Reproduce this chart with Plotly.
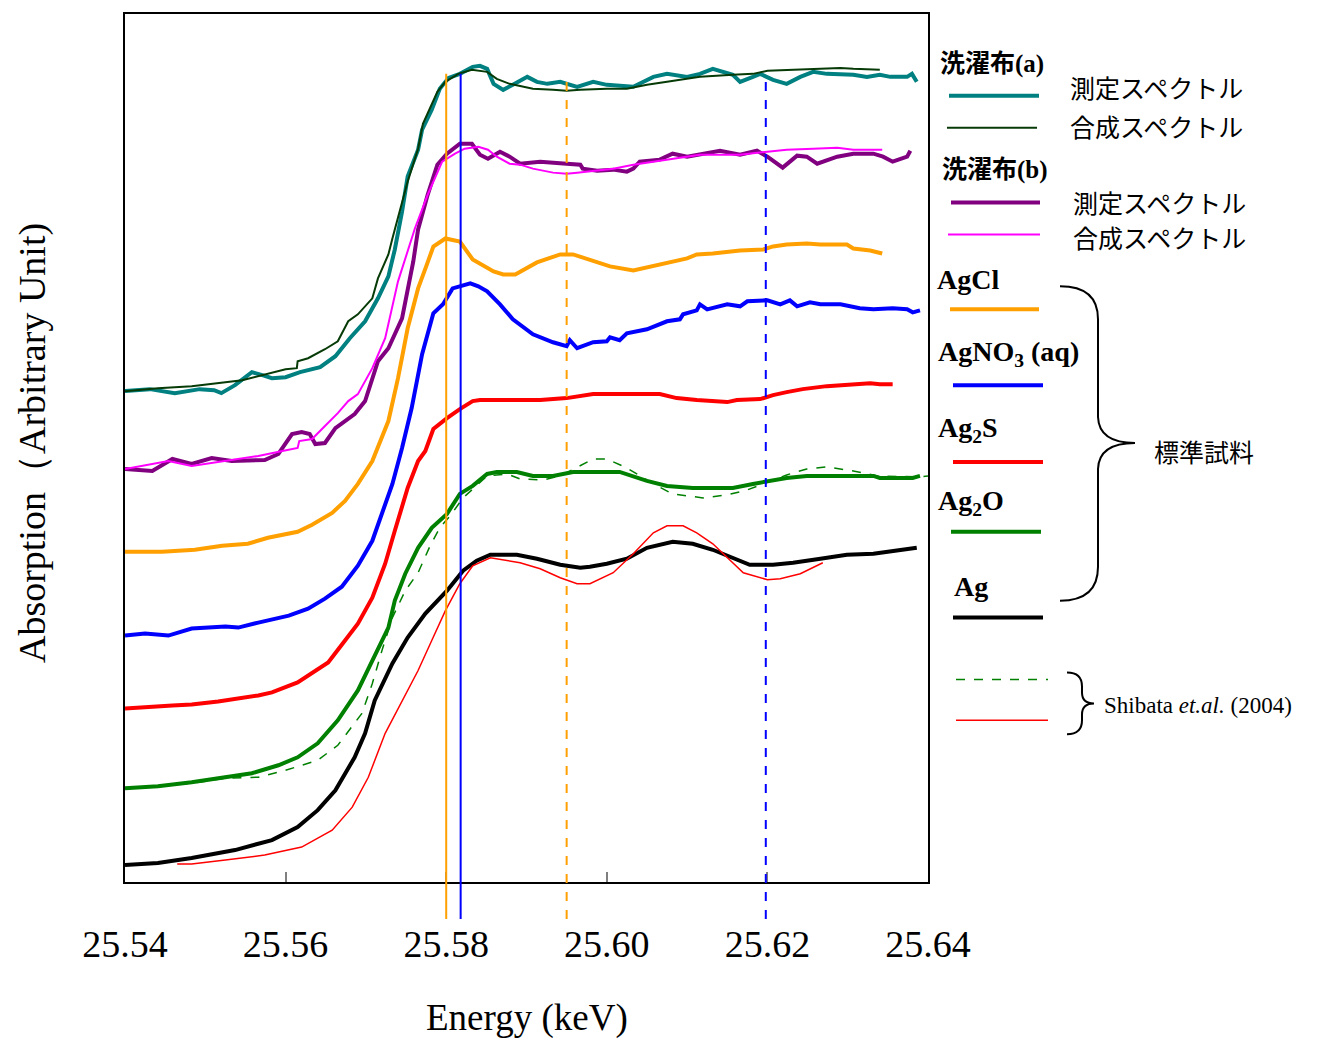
import plotly.graph_objects as go

# ---------------- data (energy keV, absorption arbitrary units) ----------------
E_wash_a_meas = [25.5400, 25.5431, 25.5462, 25.5493, 25.5511, 25.5520, 25.5537, 25.5558, 25.5571, 25.5583,
                 25.5600, 25.5618, 25.5643, 25.5662, 25.5680, 25.5699, 25.5715, 25.5728, 25.5736, 25.5745,
                 25.5752, 25.5765, 25.5770, 25.5782, 25.5792, 25.5803, 25.5817, 25.5833, 25.5842, 25.5851,
                 25.5859, 25.5871, 25.5883, 25.5901, 25.5913, 25.5926, 25.5942, 25.5963, 25.5983, 25.6000,
                 25.6033, 25.6058, 25.6075, 25.6100, 25.6116, 25.6132, 25.6157, 25.6166, 25.6182, 25.6191,
                 25.6207, 25.6224, 25.6241, 25.6257, 25.6274, 25.6307, 25.6324, 25.6340, 25.6353, 25.6374,
                 25.6380, 25.6386]
A_wash_a_meas = [492, 494, 490, 494, 493, 490, 498, 511, 508, 505,
                 506, 511, 516, 527, 545, 562, 585, 607, 634, 672,
                 707, 734, 754, 774, 795, 806, 810, 817, 818, 815,
                 800, 794, 799, 807, 802, 800, 802, 797, 802, 799,
                 797, 807, 810, 807, 810, 815, 809, 802, 807, 810,
                 804, 800, 807, 812, 810, 809, 807, 809, 807, 807,
                 810, 802]

E_wash_a_fit = [25.5400, 25.5441, 25.5483, 25.5508, 25.5525, 25.5546, 25.5574, 25.5600, 25.5614, 25.5615,
                25.5628, 25.5649, 25.5665, 25.5678, 25.5690, 25.5708, 25.5715, 25.5728, 25.5733, 25.5740,
                25.5752, 25.5765, 25.5771, 25.5789, 25.5799, 25.5815, 25.5832, 25.5851, 25.5863, 25.5879,
                25.5908, 25.5933, 25.5950, 25.5967, 25.6000, 25.6025, 25.6050, 25.6075, 25.6116, 25.6157,
                25.6182, 25.6200, 25.6224, 25.6266, 25.6291, 25.6307, 25.6340]
A_wash_a_fit = [492, 495, 497, 499, 501, 503, 509, 514, 515, 522,
                525, 534, 542, 562, 569, 585, 605, 629, 645, 665,
                702, 735, 760, 792, 802, 810, 814, 812, 805, 800,
                795, 794, 793, 794, 795, 795, 799, 802, 807, 809,
                810, 813, 814, 815, 816, 815, 814]

E_wash_b_meas = [25.5400, 25.5434, 25.5459, 25.5483, 25.5508, 25.5533, 25.5574, 25.5591, 25.5608, 25.5620,
                 25.5630, 25.5637, 25.5649, 25.5662, 25.5686, 25.5699, 25.5715, 25.5728, 25.5745, 25.5752,
                 25.5759, 25.5765, 25.5777, 25.5789, 25.5801, 25.5817, 25.5832, 25.5842, 25.5852, 25.5867,
                 25.5879, 25.5892, 25.5917, 25.5950, 25.5967, 25.5970, 25.5988, 25.6008, 25.6025, 25.6033,
                 25.6041, 25.6066, 25.6082, 25.6100, 25.6116, 25.6141, 25.6166, 25.6187, 25.6200, 25.6219,
                 25.6237, 25.6249, 25.6262, 25.6287, 25.6307, 25.6332, 25.6344, 25.6356, 25.6374, 25.6378]
A_wash_b_meas = [414, 412, 424, 419, 425, 422, 423, 429, 449, 451,
                 449, 439, 440, 455, 469, 482, 522, 535, 565, 592,
                 622, 654, 689, 719, 730, 740, 740, 729, 725, 732,
                 727, 720, 722, 720, 719, 715, 713, 714, 712, 715,
                 722, 724, 730, 727, 729, 733, 729, 733, 727, 716,
                 728, 727, 720, 727, 730, 730, 727, 722, 727, 733]

E_wash_b_fit = [25.5400, 25.5454, 25.5483, 25.5525, 25.5566, 25.5596, 25.5615, 25.5617, 25.5633, 25.5649,
                25.5665, 25.5678, 25.5690, 25.5708, 25.5724, 25.5740, 25.5752, 25.5761, 25.5777, 25.5795,
                25.5811, 25.5823, 25.5840, 25.5852, 25.5863, 25.5879, 25.5892, 25.5908, 25.5933, 25.5950,
                25.5963, 25.5983, 25.6008, 25.6033, 25.6058, 25.6082, 25.6116, 25.6141, 25.6166, 25.6200,
                25.6224, 25.6257, 25.6287, 25.6307, 25.6343]
A_wash_b_fit = [414, 422, 417, 422, 427, 432, 435, 442, 444, 457,
                470, 482, 489, 515, 545, 602, 632, 655, 689, 722,
                730, 735, 737, 734, 727, 720, 719, 715, 711, 710,
                711, 713, 715, 719, 722, 725, 729, 729, 729, 732,
                734, 735, 736, 734, 734]

E_AgCl = [25.5400, 25.5446, 25.5487, 25.5521, 25.5553, 25.5578, 25.5615, 25.5633, 25.5658, 25.5674,
          25.5690, 25.5708, 25.5728, 25.5740, 25.5752, 25.5765, 25.5776, 25.5784, 25.5799, 25.5817,
          25.5833, 25.5859, 25.5871, 25.5886, 25.5913, 25.5942, 25.5958, 25.5983, 25.6004, 25.6033,
          25.6066, 25.6100, 25.6112, 25.6132, 25.6166, 25.6195, 25.6207, 25.6224, 25.6249, 25.6266,
          25.6299, 25.6307, 25.6328, 25.6343]
A_AgCl = [331, 331, 333, 337, 339, 345, 351, 358, 370, 382,
          399, 422, 462, 505, 555, 595, 619, 637, 645, 642,
          624, 612, 609, 609, 621, 629, 629, 622, 617, 613,
          619, 625, 629, 630, 633, 634, 637, 639, 640, 639,
          639, 635, 633, 630]

E_AgNO3 = [25.5400, 25.5425, 25.5454, 25.5483, 25.5525, 25.5541, 25.5566, 25.5604, 25.5628, 25.5649,
           25.5670, 25.5690, 25.5708, 25.5724, 25.5733, 25.5745, 25.5757, 25.5770, 25.5784, 25.5796,
           25.5808, 25.5830, 25.5840, 25.5851, 25.5867, 25.5883, 25.5908, 25.5933, 25.5950, 25.5954,
           25.5963, 25.5983, 25.6000, 25.6004, 25.6016, 25.6025, 25.6050, 25.6075, 25.6091, 25.6095,
           25.6112, 25.6116, 25.6125, 25.6150, 25.6166, 25.6175, 25.6200, 25.6216, 25.6228, 25.6237,
           25.6253, 25.6266, 25.6291, 25.6315, 25.6332, 25.6356, 25.6374, 25.6381, 25.6390]
A_AgNO3 = [247, 249, 247, 254, 256, 255, 260, 267, 274, 284,
           296, 317, 342, 377, 399, 435, 475, 529, 570, 579,
           595, 600, 597, 592, 579, 564, 549, 541, 537, 543,
           535, 541, 542, 546, 543, 550, 554, 562, 564, 569,
           573, 579, 574, 579, 577, 582, 583, 579, 583, 577,
           581, 579, 579, 575, 574, 575, 574, 571, 573]

E_Ag2S = [25.5400, 25.5429, 25.5459, 25.5483, 25.5516, 25.5566, 25.5583, 25.5615, 25.5633, 25.5653,
          25.5674, 25.5690, 25.5708, 25.5724, 25.5736, 25.5752, 25.5765, 25.5774, 25.5784, 25.5801,
          25.5817, 25.5833, 25.5842, 25.5917, 25.5950, 25.5983, 25.6025, 25.6066, 25.6087, 25.6112,
          25.6150, 25.6162, 25.6191, 25.6207, 25.6224, 25.6244, 25.6274, 25.6303, 25.6328, 25.6340,
          25.6356]
A_Ag2S = [174, 175, 177, 178, 181, 187, 190, 200, 209, 220,
          242, 259, 285, 319, 352, 395, 422, 432, 454, 465,
          474, 482, 483, 483, 485, 489, 489, 489, 485, 483,
          481, 483, 484, 488, 491, 494, 497, 499, 500, 499,
          499]

E_Ag2O = [25.5400, 25.5441, 25.5483, 25.5525, 25.5558, 25.5591, 25.5615, 25.5640, 25.5665, 25.5690,
          25.5708, 25.5728, 25.5736, 25.5749, 25.5765, 25.5782, 25.5801, 25.5817, 25.5833, 25.5851,
          25.5863, 25.5888, 25.5908, 25.5933, 25.5958, 25.6016, 25.6050, 25.6075, 25.6107, 25.6157,
          25.6182, 25.6200, 25.6224, 25.6249, 25.6332, 25.6340, 25.6381, 25.6390]
A_Ag2O = [94, 96, 100, 105, 109, 117, 125, 139, 162, 192,
          222, 255, 282, 309, 335, 355, 369, 389, 397, 409,
          411, 411, 407, 407, 411, 411, 402, 397, 395, 395,
          399, 402, 405, 407, 407, 405, 405, 407]

E_Ag = [25.5400, 25.5441, 25.5483, 25.5537, 25.5583, 25.5615, 25.5640, 25.5662, 25.5686, 25.5699,
        25.5711, 25.5733, 25.5752, 25.5767, 25.5774, 25.5801, 25.5821, 25.5838, 25.5855, 25.5888,
        25.5913, 25.5942, 25.5967, 25.5979, 25.6000, 25.6025, 25.6050, 25.6082, 25.6107, 25.6132,
        25.6157, 25.6178, 25.6207, 25.6232, 25.6266, 25.6299, 25.6332, 25.6365, 25.6386]
A_Ag = [17, 19, 24, 32, 42, 55, 72, 92, 125, 149,
        182, 219, 245, 262, 269, 292, 312, 322, 328, 328,
        324, 318, 315, 316, 319, 324, 335, 341, 339, 333,
        325, 318, 318, 320, 324, 328, 329, 333, 335]

E_shibata_Ag2O = [25.5400, 25.5441, 25.5483, 25.5525, 25.5566, 25.5600, 25.5640, 25.5665, 25.5695, 25.5708,
                  25.5720, 25.5733, 25.5749, 25.5765, 25.5780, 25.5792, 25.5805, 25.5821, 25.5851, 25.5876,
                  25.5892, 25.5921, 25.5942, 25.5963, 25.5983, 25.6000, 25.6025, 25.6058, 25.6082, 25.6120,
                  25.6150, 25.6175, 25.6195, 25.6224, 25.6249, 25.6274, 25.6307, 25.6337, 25.6390, 25.6400]
A_shibata_Ag2O = [94, 96, 99, 104, 105, 112, 122, 137, 169, 199,
                  232, 265, 292, 310, 337, 355, 367, 385, 407, 409,
                  404, 403, 407, 416, 424, 424, 415, 399, 389, 385,
                  388, 393, 399, 408, 414, 416, 412, 407, 406, 407]

E_shibata_Ag = [25.5465, 25.5483, 25.5525, 25.5574, 25.5620, 25.5658, 25.5683, 25.5703, 25.5724, 25.5745,
                25.5765, 25.5782, 25.5799, 25.5817, 25.5833, 25.5855, 25.5892, 25.5917, 25.5942, 25.5963,
                25.5979, 25.6008, 25.6033, 25.6058, 25.6075, 25.6095, 25.6112, 25.6132, 25.6150, 25.6170,
                25.6200, 25.6216, 25.6241, 25.6269]
A_shibata_Ag = [18, 18, 22, 27, 35, 52, 75, 105, 149, 182,
                212, 242, 272, 299, 317, 325, 320, 314, 305, 299,
                299, 310, 329, 350, 357, 357, 350, 339, 325, 310,
                303, 304, 309, 320]

tick_vals = [25.54, 25.56, 25.58, 25.60, 25.62, 25.64]
tick_text = ["25.54", "25.56", "25.58", "25.60", "25.62", "25.64"]

marker_energies = [25.5800, 25.5818, 25.5950, 25.6198]
marker_colors = ["#FFA000", "#0000FF", "#FFA000", "#0000FF"]
marker_dash = ["solid", "solid", "dash", "dash"]

# ---------------- figure ----------------
W, H = 1323, 1040
L, R, T, B = 125, 395, 12, 158
PW, PH = W - L - R, H - T - B


def px(x):
    return (x - L) / PW


def py(y):
    return (H - B - y) / PH


SERIF = "Liberation Serif, Times New Roman, serif"
CJK = "Liberation Serif, Noto Sans CJK JP, serif"
JP = "Noto Sans CJK JP"

series = [
    (E_wash_a_meas, A_wash_a_meas, "#008080", 4, "solid"),
    (E_wash_a_fit, A_wash_a_fit, "#063A06", 2, "solid"),
    (E_wash_b_meas, A_wash_b_meas, "#800080", 4, "solid"),
    (E_wash_b_fit, A_wash_b_fit, "#FF00FF", 2, "solid"),
    (E_AgCl, A_AgCl, "#FFA000", 4, "solid"),
    (E_AgNO3, A_AgNO3, "#0000FF", 4, "solid"),
    (E_Ag2S, A_Ag2S, "#FF0000", 4, "solid"),
    (E_Ag2O, A_Ag2O, "#008000", 4, "solid"),
    (E_shibata_Ag2O, A_shibata_Ag2O, "#008000", 1.5, "dash"),
    (E_Ag, A_Ag, "#000000", 4, "solid"),
    (E_shibata_Ag, A_shibata_Ag, "#FF0000", 1.5, "solid"),
]

fig = go.Figure()
for ex, ay, col, w, dash in series:
    fig.add_trace(go.Scatter(x=ex, y=ay, mode="lines",
                             line=dict(color=col, width=w, dash=dash),
                             showlegend=False, hoverinfo="skip"))

shapes = []
for e, c, d in zip(marker_energies, marker_colors, marker_dash):
    shapes.append(dict(type="line", xref="x", yref="paper", x0=e, x1=e,
                       y0=py(919), y1=py(72), line=dict(color=c, width=2, dash=d)))

# legend samples (drawn manually, outside the plot)
legend_lines = [
    (949, 1039, 94, "#008080", 4, "solid"),
    (947, 1037, 126, "#063A06", 2, "solid"),
    (951, 1040, 201, "#800080", 4, "solid"),
    (948, 1040, 233, "#FF00FF", 2, "solid"),
    (950, 1039, 308, "#FFA000", 4, "solid"),
    (953, 1043, 384, "#0000FF", 4, "solid"),
    (953, 1043, 461, "#FF0000", 4, "solid"),
    (951, 1041, 531, "#008000", 4, "solid"),
    (953, 1043, 617, "#000000", 4, "solid"),
    (956, 1048, 679, "#008000", 1.5, "dash"),
    (956, 1048, 720, "#FF0000", 1.5, "solid"),
]
for x0, x1, yy, c, w, d in legend_lines:
    shapes.append(dict(type="line", xref="paper", yref="paper",
                       x0=px(x0), x1=px(x1), y0=py(yy), y1=py(yy),
                       line=dict(color=c, width=w, dash=d)))


def P(x, y):
    return f"{px(x):.5f},{py(y):.5f}"


big_brace = (f"M {P(1060,285)} Q {P(1098,285)} {P(1098,318)} L {P(1098,416)} "
             f"Q {P(1099,442)} {P(1135,442)} Q {P(1099,442)} {P(1098,468)} "
             f"L {P(1098,566)} Q {P(1098,600)} {P(1060,600)}")
small_brace = (f"M {P(1067,672)} Q {P(1082,672)} {P(1082,686)} L {P(1082,692)} "
               f"Q {P(1082,703)} {P(1094,703)} Q {P(1082,703)} {P(1082,714)} "
               f"L {P(1082,720)} Q {P(1082,734)} {P(1067,734)}")
for pth in (big_brace, small_brace):
    shapes.append(dict(type="path", xref="paper", yref="paper", path=pth,
                       line=dict(color="black", width=2)))

annotations = []


def label(text, x, y, size, bold=False, family=CJK):
    annotations.append(dict(text=f"<b>{text}</b>" if bold else text,
                            xref="paper", yref="paper", x=px(x), y=py(y),
                            xanchor="left", yanchor="middle", showarrow=False,
                            font=dict(family=family, size=size, color="black")))


label("洗濯布(a)", 938, 62, 25, bold=True)
label("測定スペクトル", 1068, 85, 25, family=JP)
label("合成スペクトル", 1068, 124, 25, family=JP)
label("洗濯布(b)", 940, 168, 25, bold=True)
label("測定スペクトル", 1071, 200, 25, family=JP)
label("合成スペクトル", 1071, 236, 25, family=JP)
label("AgCl", 935, 278, 28, bold=True, family=SERIF)
label("AgNO<sub>3</sub> (aq)", 936, 352, 28, bold=True, family=SERIF)
label("Ag<sub>2</sub>S", 936, 428, 28, bold=True, family=SERIF)
label("Ag<sub>2</sub>O", 936, 502, 28, bold=True, family=SERIF)
label("Ag", 952, 586, 28, bold=True, family=SERIF)
label("標準試料", 1152, 450, 25, family=JP)
label("Shibata <i>et.al.</i> (2004)", 1102, 705, 23, family=SERIF)

annotations.append(dict(text="Energy (keV)", xref="paper", yref="paper",
                        x=px(527), y=py(1018), xanchor="center", yanchor="middle",
                        showarrow=False, font=dict(family=SERIF, size=37, color="black")))
annotations.append(dict(text="Absorption（Arbitrary Unit)", xref="paper", yref="paper",
                        x=px(32), y=py(442), xanchor="center", yanchor="middle",
                        textangle=-90, showarrow=False,
                        font=dict(family=SERIF, size=38, color="black")))

fig.update_layout(
    width=W, height=H,
    margin=dict(l=L, r=R, t=T, b=B, pad=0),
    paper_bgcolor="white", plot_bgcolor="white",
    shapes=shapes, annotations=annotations,
    xaxis=dict(range=[25.54, 25.64], tickvals=tick_vals, ticktext=tick_text,
               ticks="inside", ticklen=10, tickwidth=1.5, tickcolor="#7f7f7f",
               showline=True, linecolor="black", linewidth=2, mirror=True,
               showgrid=False, zeroline=False, ticklabelstandoff=27,
               tickfont=dict(family=SERIF, size=38, color="black")),
    yaxis=dict(range=[0, 870], showticklabels=False, ticks="",
               showline=True, linecolor="black", linewidth=2, mirror=True,
               showgrid=False, zeroline=False),
)

fig.write_html("out.html", config={"displayModeBar": False},
               post_script="document.body.style.margin='0';document.body.style.overflow='hidden';")
